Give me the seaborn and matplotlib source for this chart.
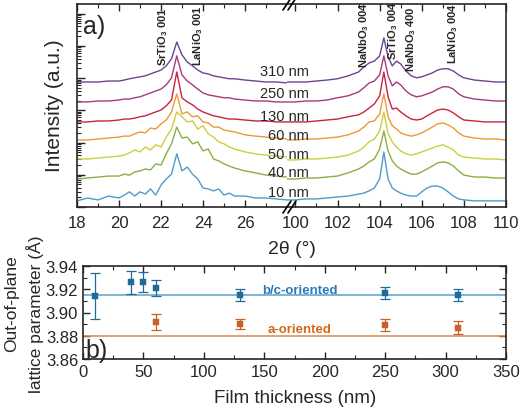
import numpy as np
import pandas as pd
import matplotlib
matplotlib.use("Agg")
import matplotlib.pyplot as plt
import seaborn as sns
from matplotlib.lines import Line2D
from matplotlib.ticker import LogLocator, NullFormatter, FixedLocator

# ---------------- data: XRD scans (log10 intensity, a.u.) ----------------
two_theta_low = [18, 18.5, 19, 19.5, 20, 20.25, 20.5, 20.75, 21, 21.25, 21.5, 21.75,
                 22, 22.25, 22.5, 22.75, 23, 23.25, 23.5, 23.75, 24, 24.25, 24.5,
                 24.75, 25, 25.25, 25.5, 26, 26.5, 27, 27.5, 28]
two_theta_high = [99.6, 100, 100.5, 101, 101.5, 102, 102.5, 103, 103.25, 103.5, 103.75,
                  104, 104.2, 104.4, 104.6, 104.8, 105, 105.25, 105.5, 105.75, 106,
                  106.25, 106.5, 106.75, 107, 107.25, 107.5, 107.75, 108, 108.5, 109,
                  109.5, 110]

films = ["10 nm", "40 nm", "50 nm", "60 nm", "130 nm", "250 nm", "310 nm"]

logI_low_10 = [0.19, 0.28, 0.22, 0.34, 0.28, 0.37, 0.47, 0.34, 0.47, 0.40, 0.56, 0.37, 0.68, 0.87, 1.02, 1.65,
               1.12, 1.24, 1.02, 0.87, 0.59, 0.56, 0.50, 0.56, 0.37, 0.43, 0.34, 0.34, 0.28, 0.28, 0.25, 0.22]
logI_low_40 = [0.87, 0.90, 0.93, 0.96, 0.96, 1.02, 0.99, 1.09, 1.12, 1.18, 1.15, 1.34, 1.30, 1.65, 1.96, 2.48,
               2.14, 2.17, 1.96, 2.02, 1.74, 1.80, 1.49, 1.43, 1.34, 1.27, 1.21, 1.12, 1.06, 0.99, 0.96, 0.93]
logI_low_50 = [1.49, 1.49, 1.52, 1.55, 1.58, 1.61, 1.68, 1.77, 1.71, 1.86, 1.77, 1.93, 1.86, 2.17, 2.42, 2.95,
               2.80, 2.64, 2.67, 2.42, 2.52, 2.27, 2.17, 2.02, 1.96, 1.86, 1.80, 1.71, 1.65, 1.61, 1.58, 1.55]
logI_low_60 = [2.08, 2.08, 2.11, 2.14, 2.17, 2.20, 2.20, 2.27, 2.33, 2.30, 2.45, 2.42, 2.58, 2.70, 2.95, 3.51,
               2.89, 2.95, 2.80, 2.83, 2.64, 2.61, 2.48, 2.48, 2.39, 2.36, 2.33, 2.24, 2.20, 2.17, 2.14, 2.11]
logI_low_130 = [2.64, 2.64, 2.67, 2.67, 2.70, 2.73, 2.73, 2.76, 2.80, 2.83, 2.89, 2.95, 3.01, 3.14, 3.32, 4.19,
                3.39, 3.26, 3.17, 3.04, 2.95, 2.89, 2.83, 2.80, 2.76, 2.73, 2.73, 2.70, 2.67, 2.67, 2.64, 2.64]
logI_low_250 = [3.26, 3.26, 3.29, 3.29, 3.32, 3.35, 3.35, 3.39, 3.42, 3.48, 3.54, 3.60, 3.66, 3.79, 4.01, 4.69,
                4.10, 3.91, 3.79, 3.66, 3.54, 3.48, 3.45, 3.42, 3.39, 3.39, 3.35, 3.32, 3.29, 3.29, 3.26, 3.26]
logI_low_310 = [3.88, 3.88, 3.88, 3.91, 3.91, 3.94, 3.98, 4.01, 4.04, 4.07, 4.13, 4.19, 4.25, 4.38, 4.60, 5.12,
                4.72, 4.50, 4.38, 4.25, 4.16, 4.13, 4.07, 4.04, 4.01, 3.98, 3.98, 3.94, 3.91, 3.88, 3.88, 3.85]

logI_high_10 = [0.22, 0.22, 0.25, 0.25, 0.28, 0.31, 0.34, 0.40, 0.43, 0.50, 0.59, 0.87, 1.71, 0.87, 0.59, 0.50, 0.43,
                0.37, 0.34, 0.34, 0.47, 0.59, 0.65, 0.65, 0.59, 0.47, 0.34, 0.25, 0.22, 0.19, 0.19, 0.19, 0.19]
logI_high_40 = [0.87, 0.87, 0.90, 0.90, 0.93, 0.96, 1.06, 1.18, 1.27, 1.40, 1.49, 1.80, 2.36, 1.74, 1.43, 1.27, 1.18,
                1.09, 1.02, 1.02, 1.09, 1.18, 1.27, 1.37, 1.40, 1.37, 1.27, 1.12, 0.99, 0.93, 0.93, 0.90, 0.90]
logI_high_50 = [1.46, 1.46, 1.49, 1.49, 1.52, 1.55, 1.61, 1.74, 1.86, 2.02, 2.11, 2.36, 2.95, 2.27, 2.02, 1.86, 1.74,
                1.65, 1.61, 1.65, 1.71, 1.77, 1.83, 1.89, 1.93, 1.86, 1.77, 1.61, 1.55, 1.52, 1.49, 1.49, 1.46]
logI_high_60 = [2.08, 2.08, 2.11, 2.11, 2.14, 2.17, 2.24, 2.36, 2.48, 2.64, 2.67, 2.89, 3.51, 2.80, 2.52, 2.42, 2.30,
                2.24, 2.20, 2.24, 2.30, 2.39, 2.48, 2.58, 2.61, 2.55, 2.45, 2.30, 2.20, 2.14, 2.11, 2.11, 2.08]
logI_high_130 = [2.64, 2.64, 2.64, 2.67, 2.70, 2.73, 2.80, 2.86, 2.95, 3.07, 3.20, 3.45, 4.19, 3.42, 3.04, 3.07, 2.95,
                 2.83, 2.73, 2.70, 2.73, 2.83, 2.92, 3.01, 3.04, 3.01, 2.92, 2.80, 2.70, 2.67, 2.64, 2.64, 2.64]
logI_high_250 = [3.26, 3.26, 3.29, 3.29, 3.32, 3.39, 3.45, 3.57, 3.70, 3.85, 3.91, 4.10, 4.69, 4.07, 3.76, 3.88, 3.79,
                 3.60, 3.48, 3.42, 3.45, 3.51, 3.57, 3.66, 3.73, 3.73, 3.66, 3.51, 3.42, 3.35, 3.32, 3.29, 3.29]
logI_high_310 = [3.88, 3.88, 3.88, 3.91, 3.94, 3.98, 4.07, 4.19, 4.35, 4.47, 4.53, 4.69, 5.25, 4.66, 4.38, 4.53, 4.44,
                 4.22, 4.07, 4.01, 4.04, 4.10, 4.16, 4.25, 4.29, 4.29, 4.22, 4.10, 4.01, 3.94, 3.91, 3.88, 3.88]

low_series = [logI_low_10, logI_low_40, logI_low_50, logI_low_60, logI_low_130, logI_low_250, logI_low_310]
high_series = [logI_high_10, logI_high_40, logI_high_50, logI_high_60, logI_high_130, logI_high_250, logI_high_310]

peak_labels_low = [r"SrTiO$_\mathbf{3}$ 001", r"LaNiO$_\mathbf{3}$ 001"]
peak_pos_low = [22.1, 23.76]
peak_labels_high = [r"NaNbO$_\mathbf{3}$ 004", r"SrTiO$_\mathbf{3}$ 004", r"NaNbO$_\mathbf{3}$ 400", r"LaNiO$_\mathbf{3}$ 004"]
peak_pos_high = [103.24, 104.62, 105.48, 107.48]

# ---------------- data: lattice parameters ----------------
thick_bc = [10, 40, 50, 60, 130, 250, 310]
lat_bc = [3.914, 3.926, 3.926, 3.921, 3.915, 3.917, 3.915]
err_bc = [0.020, 0.010, 0.0085, 0.0068, 0.005, 0.005, 0.0055]
thick_a = [60, 130, 250, 310]
lat_a = [3.892, 3.890, 3.889, 3.887]
err_a = [0.007, 0.0045, 0.005, 0.0055]
lat_bc_ref = 3.915
lat_a_ref = 3.880

palette = {"10 nm": "#4f9bc9", "40 nm": "#8ab043", "50 nm": "#cbcf3e", "60 nm": "#eb9a35",
           "130 nm": "#c9233f", "250 nm": "#a8397c", "310 nm": "#6e4393"}

sns.set_style("ticks")
plt.rcParams["font.family"] = ["Liberation Sans", "DejaVu Sans"]
plt.rcParams["mathtext.fontset"] = "custom"
plt.rcParams["mathtext.bf"] = "Liberation Sans:bold"
plt.rcParams["mathtext.rm"] = "Liberation Sans"

W, H = 520, 414
fig = plt.figure(figsize=(W / 100, H / 100), dpi=100)

def px(x0, y0, x1, y1):
    return [x0 / W, 1 - y1 / H, (x1 - x0) / W, (y1 - y0) / H]

axL = fig.add_axes(px(77, 5, 287, 208))
axR = fig.add_axes(px(287, 5, 506, 208))
axB = fig.add_axes(px(83, 267, 506, 360))

def long_df(xs, series):
    rows = []
    for name, ys in zip(films, series):
        for x, v in zip(xs, ys):
            rows.append((name, x, 10 ** v))
    return pd.DataFrame(rows, columns=["film", "tt", "I"])

dfL = long_df(two_theta_low, low_series)
dfR = long_df(two_theta_high, high_series)

for ax, df in ((axL, dfL), (axR, dfR)):
    sns.lineplot(data=df, x="tt", y="I", hue="film", palette=palette, estimator=None,
                 legend=False, ax=ax, linewidth=1.0)
    ax.set_yscale("log")
    ax.set_ylim(1, 10 ** 6.3)
    ax.set_xlabel("")
    ax.set_ylabel("")
    for s in ax.spines.values():
        s.set_linewidth(1.2)

axL.set_xlim(18, 28)
axR.set_xlim(99.6, 110)
axL.set_xticks([18, 20, 22, 24, 26])
axL.xaxis.set_minor_locator(FixedLocator([19, 21, 23, 25, 27]))
axR.set_xticks([100, 102, 104, 106, 108, 110])
axR.xaxis.set_minor_locator(FixedLocator([101, 103, 105, 107, 109]))
axL.spines["right"].set_visible(False)
axR.spines["left"].set_visible(False)
axL.yaxis.set_major_locator(LogLocator(base=10, numticks=20))
axL.yaxis.set_minor_locator(LogLocator(base=10, subs=np.arange(2, 10), numticks=20))
axL.yaxis.set_minor_formatter(NullFormatter())
axL.tick_params(axis="y", which="both", direction="in", left=True, right=False, labelleft=False)
axL.tick_params(axis="y", which="major", length=6, width=1)
axL.tick_params(axis="y", which="minor", length=3, width=0.8)
axR.tick_params(axis="y", which="both", left=False, right=False, labelleft=False)
for ax in (axL, axR):
    ax.tick_params(axis="x", which="both", direction="in", top=True, bottom=True, labelsize=12, pad=6)
    ax.tick_params(axis="x", which="major", length=5, width=1)
    ax.tick_params(axis="x", which="minor", length=3, width=0.8)

for lab, x in zip(peak_labels_low, peak_pos_low):
    axL.text(x, 0.70, lab, rotation=90, ha="center", va="bottom", fontsize=8,
             fontweight="bold", transform=axL.get_xaxis_transform())
yb = {0: 0.69, 1: 0.73, 2: 0.67, 3: 0.71}
for i, (lab, x) in enumerate(zip(peak_labels_high, peak_pos_high)):
    axR.text(x, yb[i], lab, rotation=90, ha="center", va="bottom", fontsize=8,
             fontweight="bold", transform=axR.get_xaxis_transform())

label_y = {"310 nm": 72, "250 nm": 94, "130 nm": 117, "60 nm": 136, "50 nm": 155, "40 nm": 173, "10 nm": 193}
for f in films:
    fig.text(309 / W, 1 - label_y[f] / H, f, ha="right", va="center", fontsize=10.5)

# axis break marks
for yy in (5, 208):
    for dx in (0, 5):
        fig.add_artist(Line2D([(283 + dx) / W, (291 + dx) / W], [1 - (yy + 6) / H, 1 - (yy - 6) / H],
                              color="black", lw=1.2, transform=fig.transFigure))

fig.text(83 / W, 1 - 27 / H, "a)", fontsize=18, ha="left", va="center")
fig.text(55 / W, 1 - 106 / H, "Intensity (a.u.)", rotation=90, ha="center", va="center", fontsize=15)
fig.text(292 / W, 1 - 250 / H, "2θ (°)", ha="center", va="center", fontsize=14)

# ---------------- bottom panel ----------------
c_bc, c_a = "#1f6b9a", "#c8602a"
axB.axhline(lat_bc_ref, color="#5aa0cc", lw=1.1, zorder=1)
axB.axhline(lat_a_ref, color="#e0864a", lw=1.1, zorder=1)
axB.errorbar(thick_bc, lat_bc, yerr=err_bc, fmt="none", ecolor=c_bc, elinewidth=0.9, capsize=3.5, capthick=0.9, zorder=2)
axB.errorbar(thick_a, lat_a, yerr=err_a, fmt="none", ecolor=c_a, elinewidth=0.9, capsize=3.5, capthick=0.9, zorder=2)
sns.scatterplot(x=thick_bc, y=lat_bc, marker="s", s=16, color=c_bc, edgecolor=c_bc, ax=axB, zorder=3)
sns.scatterplot(x=thick_a, y=lat_a, marker="s", s=16, color=c_a, edgecolor=c_a, ax=axB, zorder=3)
axB.set_xlim(0, 350)
axB.set_ylim(3.86, 3.94)
axB.set_xticks(np.arange(0, 351, 50))
axB.xaxis.set_minor_locator(FixedLocator(np.arange(25, 350, 50)))
axB.set_yticks([3.86, 3.88, 3.90, 3.92, 3.94])
axB.yaxis.set_minor_locator(FixedLocator([3.87, 3.89, 3.91, 3.93]))
axB.set_yticklabels(["3.86", "3.88", "3.90", "3.92", "3.94"])
axB.tick_params(which="both", direction="in", top=True, right=True, labelsize=12)
axB.tick_params(which="major", length=5, width=1)
axB.tick_params(which="minor", length=3, width=0.8)
for s in axB.spines.values():
    s.set_linewidth(1.2)
axB.text(179.5, 3.9194, "b/c-oriented", color="#2b7bb9", fontsize=9.5, fontweight="bold", ha="center", va="center")
axB.text(179.5, 3.8858, "a-oriented", color="#d2691e", fontsize=9.5, fontweight="bold", ha="center", va="center")
fig.text(85 / W, 1 - 358 / H, "b)", fontsize=18, ha="left", va="baseline")
fig.text(295 / W, 1 - 399 / H, "Film thickness (nm)", ha="center", va="center", fontsize=13.5)
fig.text(12 / W, 1 - 304 / H, "Out-of-plane", rotation=90, ha="center", va="center", fontsize=12.5)
fig.text(35 / W, 1 - 314 / H, "lattice parameter (Å)", rotation=90, ha="center", va="center", fontsize=12.5)

fig.savefig("out.png", dpi=100)
